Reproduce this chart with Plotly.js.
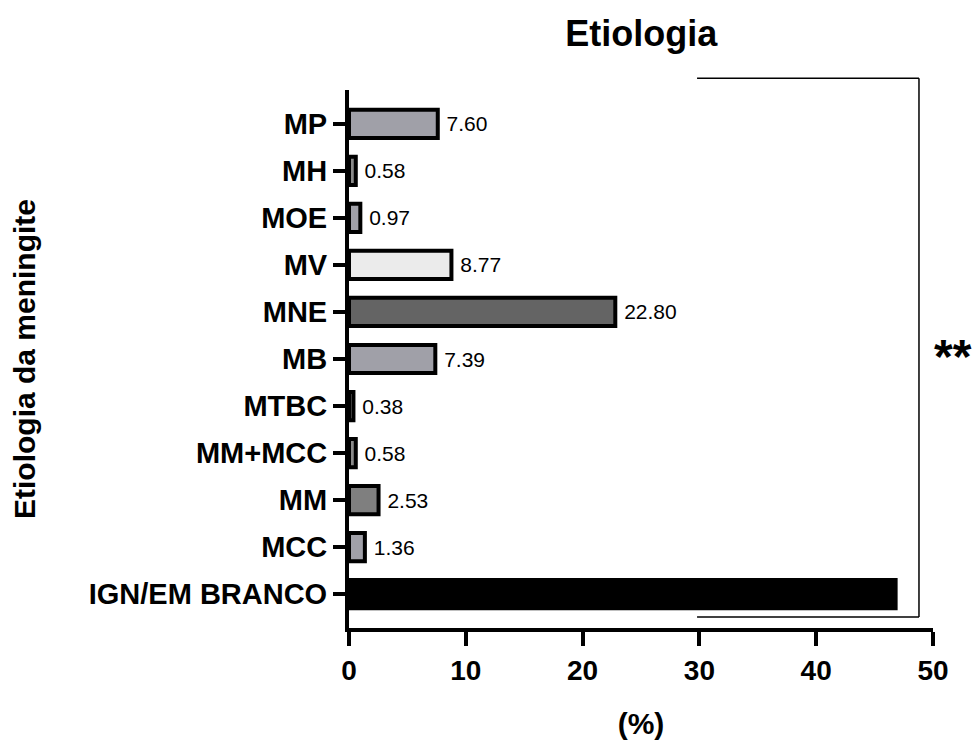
<!DOCTYPE html>
<html>
<head>
<meta charset="utf-8">
<script src="https://cdn.plot.ly/plotly-3.0.1.min.js"></script>
<style>html,body{margin:0;padding:0;background:#fff;}#chart{width:976px;height:740px;}</style>
</head>
<body>
<div id="chart"></div>
<script>
const categories = ['MP','MH','MOE','MV','MNE','MB','MTBC','MM+MCC','MM','MCC','IGN/EM BRANCO'];
const values = [7.60, 0.58, 0.97, 8.77, 22.80, 7.39, 0.38, 0.58, 2.53, 1.36, 46.8];
const showLabel = [true,true,true,true,true,true,true,true,true,true,false];
const barColors = ['#a0a0a8','#8a8a8a','#a0a0a8','#ebebeb','#646464','#a0a0a8','#8a8a8a','#8a8a8a','#7f7f7f','#a0a0a8','#000000'];
const xTicks = [0,10,20,30,40,50];

const FONT = 'Liberation Sans, Arial, sans-serif';
const labels = values.map((v,i)=> showLabel[i] ? '\u00a0' + v.toFixed(2) : '');

const trace = {
  type: 'bar',
  orientation: 'h',
  x: values,
  y: categories,
  width: 0.6,
  marker: {color: barColors, line: {color: '#000', width: 4}},
  text: labels,
  textposition: 'outside',
  textfont: {family: FONT, size: 21, color: '#000'},
  cliponaxis: false,
  hoverinfo: 'none'
};

const layout = {
  width: 976, height: 740,
  margin: {l: 349, r: 43, t: 90, b: 112},
  paper_bgcolor: '#fff', plot_bgcolor: '#fff',
  showlegend: false,
  title: {text: 'Etiologia', x: 0.657, xanchor: 'center', y: 0.955, yanchor: 'middle',
          font: {family: FONT, size: 36, color: '#000', weight: 'bold'}},
  xaxis: {
    range: [0, 50], tickvals: xTicks, ticktext: xTicks.map(String),
    showline: true, linecolor: '#000', linewidth: 4,
    ticks: 'outside', ticklen: 14, tickwidth: 4, tickcolor: '#000',
    showgrid: false, zeroline: false,
    tickfont: {family: FONT, size: 28, color: '#000', weight: 'bold'},
    title: {text: '(%)', standoff: 30, font: {family: FONT, size: 30, color: '#000', weight: 'bold'}}
  },
  yaxis: {
    type: 'category',
    range: [10.72, -0.72],
    showline: true, linecolor: '#000', linewidth: 4,
    ticks: 'outside', ticklen: 12, tickwidth: 4, tickcolor: '#000',
    showgrid: false, zeroline: false,
    tickfont: {family: FONT, size: 29, color: '#000', weight: 'bold'},
    title: {text: 'Etiologia da meningite', standoff: 45, font: {family: FONT, size: 30, color: '#000', weight: 'bold'}}
  },
  shapes: [
    {type: 'line', xref: 'x', yref: 'paper', x0: 29.8, x1: 48.8, y0: 1.022, y1: 1.022, line: {color: '#000', width: 1.5}},
    {type: 'line', xref: 'x', yref: 'paper', x0: 48.8, x1: 48.8, y0: 1.022, y1: 0.0204, line: {color: '#000', width: 1.5}},
    {type: 'line', xref: 'x', yref: 'paper', x0: 29.8, x1: 48.8, y0: 0.0204, y1: 0.0204, line: {color: '#000', width: 1.5}}
  ],
  annotations: [
    {text: '**', xref: 'paper', yref: 'paper', x: 0.998, y: 0.505, xanchor: 'left', yanchor: 'middle',
     showarrow: false, font: {family: FONT, size: 48, color: '#000', weight: 'bold'}}
  ]
};

Plotly.newPlot('chart', [trace], layout, {displayModeBar: false, staticPlot: true});
</script>
</body>
</html>
